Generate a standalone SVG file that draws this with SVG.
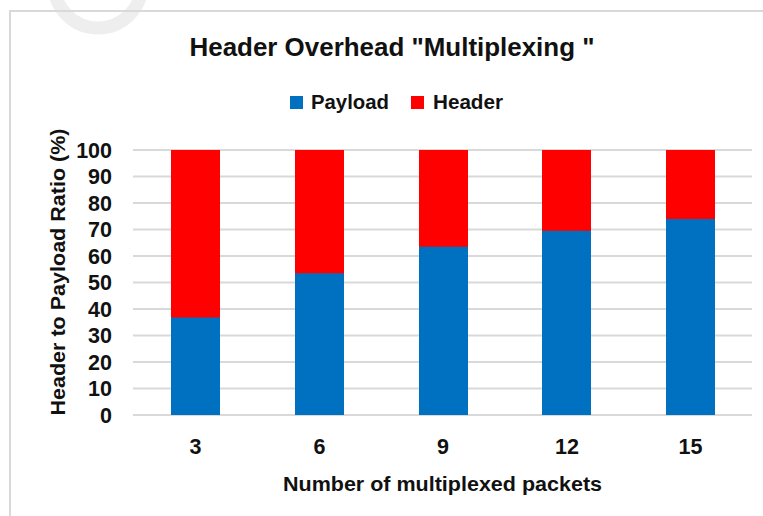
<svg xmlns="http://www.w3.org/2000/svg" width="763" height="516" viewBox="0 0 763 516">
<style>
text{font-family:"Liberation Sans",Arial,sans-serif;font-weight:bold;fill:#111;}
.tick{font-size:21.5px;}
.grid{stroke:#D9D9D9;stroke-width:2;}
.pay{fill:#0070C0;}
.hdr{fill:#FF0000;}
</style>
<rect width="763" height="516" fill="#fff"/>
<circle cx="98" cy="-16" r="44" fill="none" stroke="#EEEEEE" stroke-width="13"/>
<path d="M10,516 V11 H763" fill="none" stroke="#D9D9D9" stroke-width="2"/>
<g id="title"><text x="392" y="56" font-size="25" text-anchor="middle" textLength="405" lengthAdjust="spacingAndGlyphs">Header Overhead "Multiplexing "</text></g>
<g id="legend">
<rect x="290" y="96" width="13" height="13" class="pay"/>
<text x="311" y="109" font-size="21" textLength="78" lengthAdjust="spacingAndGlyphs">Payload</text>
<rect x="411" y="96" width="13" height="13" class="hdr"/>
<text x="433" y="109" font-size="21" textLength="70" lengthAdjust="spacingAndGlyphs">Header</text>
</g>
<g id="gridlines">
<line class="grid" x1="133" x2="752" y1="150" y2="150"/>
<line class="grid" x1="133" x2="752" y1="176.5" y2="176.5"/>
<line class="grid" x1="133" x2="752" y1="203" y2="203"/>
<line class="grid" x1="133" x2="752" y1="229.5" y2="229.5"/>
<line class="grid" x1="133" x2="752" y1="256" y2="256"/>
<line class="grid" x1="133" x2="752" y1="282.5" y2="282.5"/>
<line class="grid" x1="133" x2="752" y1="309" y2="309"/>
<line class="grid" x1="133" x2="752" y1="335.5" y2="335.5"/>
<line class="grid" x1="133" x2="752" y1="362" y2="362"/>
<line class="grid" x1="133" x2="752" y1="388.5" y2="388.5"/>
<line class="grid" x1="133" x2="752" y1="415" y2="415"/>
</g>
<g id="y-ticks" text-anchor="end" class="tick">
<text x="112" y="157.5">100</text>
<text x="112" y="184">90</text>
<text x="112" y="210.5">80</text>
<text x="112" y="237">70</text>
<text x="112" y="263.5">60</text>
<text x="112" y="290">50</text>
<text x="112" y="316.5">40</text>
<text x="112" y="343">30</text>
<text x="112" y="369.5">20</text>
<text x="112" y="396">10</text>
<text x="112" y="422.5">0</text>
</g>
<g id="y-title"><text transform="translate(65,272) rotate(-90)" font-size="21" text-anchor="middle" textLength="287" lengthAdjust="spacingAndGlyphs">Header to Payload Ratio (%)</text></g>
<g id="bar-3"><rect class="hdr" x="171" y="150" width="49" height="168"/><rect class="pay" x="171" y="317.5" width="49" height="97.5"/></g>
<g id="bar-6"><rect class="hdr" x="295" y="150" width="49" height="124"/><rect class="pay" x="295" y="273.3" width="49" height="141.7"/></g>
<g id="bar-9"><rect class="hdr" x="419" y="150" width="49" height="97"/><rect class="pay" x="419" y="246.7" width="49" height="168.3"/></g>
<g id="bar-12"><rect class="hdr" x="542" y="150" width="49" height="81"/><rect class="pay" x="542" y="230.8" width="49" height="184.2"/></g>
<g id="bar-15"><rect class="hdr" x="666" y="150" width="49" height="69.5"/><rect class="pay" x="666" y="219" width="49" height="196"/></g>
<g id="x-ticks" text-anchor="middle" class="tick">
<text x="195.5" y="454">3</text>
<text x="319.5" y="454">6</text>
<text x="443" y="454">9</text>
<text x="567" y="454">12</text>
<text x="690.5" y="454">15</text>
</g>
<g id="x-title"><text x="442.5" y="491" font-size="21" text-anchor="middle" textLength="319" lengthAdjust="spacingAndGlyphs">Number of multiplexed packets</text></g>
</svg>
